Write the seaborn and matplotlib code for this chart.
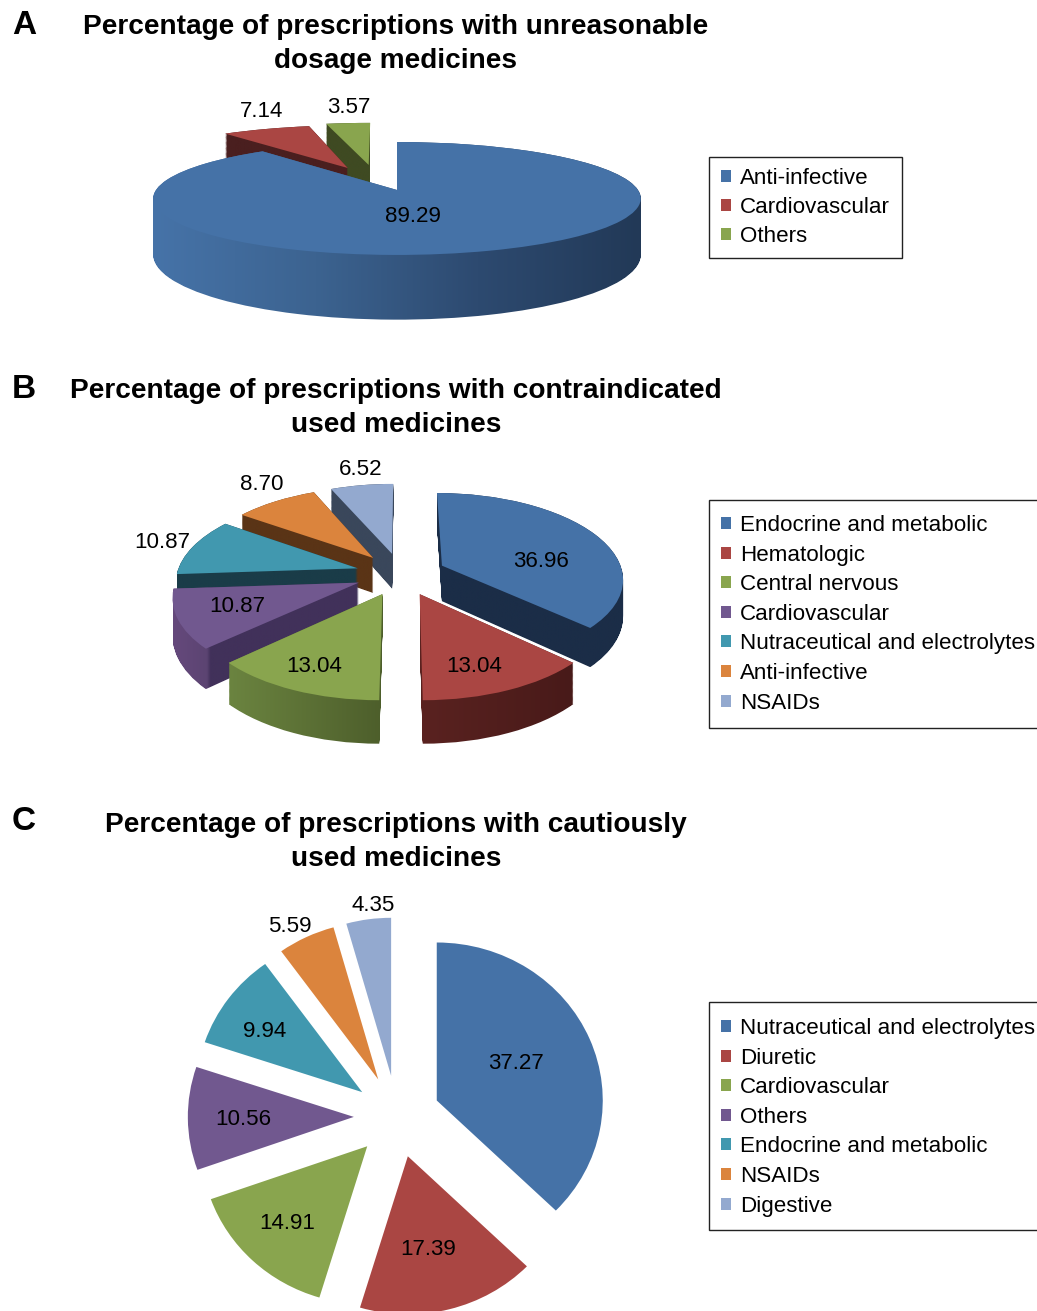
import numpy as np
import matplotlib
matplotlib.use('Agg')
import matplotlib.pyplot as plt
import seaborn as sns
from matplotlib.colors import LinearSegmentedColormap
from matplotlib.patches import Patch, PathPatch, Rectangle
from matplotlib.path import Path

W, H = 1037, 1311

pie_hex = ['#4572A7', '#AA4643', '#89A54E', '#71588F', '#4198AF', '#DB843D', '#93A9CF']

# panel A
a_labels = ['Anti-infective', 'Cardiovascular', 'Others']
a_values = [89.29, 7.14, 3.57]
a_title = ['Percentage of prescriptions with unreasonable', 'dosage medicines']

# panel B
b_labels = ['Endocrine and metabolic', 'Hematologic', 'Central nervous', 'Cardiovascular',
            'Nutraceutical and electrolytes', 'Anti-infective', 'NSAIDs']
b_values = [36.96, 13.04, 13.04, 10.87, 10.87, 8.70, 6.52]
b_title = ['Percentage of prescriptions with contraindicated', 'used medicines']

# panel C
c_labels = ['Nutraceutical and electrolytes', 'Diuretic', 'Cardiovascular', 'Others',
            'Endocrine and metabolic', 'NSAIDs', 'Digestive']
c_values = [37.27, 17.39, 14.91, 10.56, 9.94, 5.59, 4.35]
c_title = ['Percentage of prescriptions with cautiously', 'used medicines']

# where the value labels sit, in pixels
a_label_xy = [(413, 214), (262, 109), (349, 105)]
b_label_xy = [(541, 559), (474, 664), (314, 664), (237, 604), (162, 540), (262, 482), (361, 467)]
c_label_xy = [(516, 1061), (428, 1247), (287, 1221), (243, 1117), (265, 1029), (290, 924), (373, 903)]

# wall shading of the 3D pies, left to right
a_walls = [['#4673A8', '#3C6390', '#2D4A70', '#223957'], ['#4A1F1F', '#4A1F1F'], ['#3F4A22', '#3F4A22']]
b_walls = [['#1B2D47', '#1B2D47'], ['#5A2220', '#481A19'], ['#6B8440', '#4D5E2B'],
           [(0, '#65497C'), (0.18, '#5C4472'), (0.2, '#41315A'), (1, '#41315A')], ['#1A3C48', '#1A3C48'],
           ['#5A3416', '#5A3416'], ['#3A475B', '#3A475B']]

sns.set_theme(style='white')
plt.rcParams['font.family'] = ['Liberation Sans', 'DejaVu Sans']

fig = plt.figure(figsize=(W / 100, H / 100), dpi=100)
ax = fig.add_axes([0, 0, 1, 1])


def pie3d(values, colors, walls, explode, center, a, b, p, depth, order, shift_x=None):
    # take the slices from ax.pie, then tilt them into perspective
    wedges, _ = ax.pie(values, explode=explode, colors=colors, startangle=90, counterclock=False, radius=1)
    for i, w in enumerate(wedges):
        path = w.get_patch_transform().transform_path(w.get_path())
        w.remove()
        v = path.vertices
        s = 1 + p * v[:, 1]
        dx = shift_x[i] if shift_x else 0
        x = center[0] + dx + a * v[:, 0] / s
        y = H - center[1] + b * v[:, 1] / s
        z = order[i]
        if depth > 0:
            layers = [Path(np.column_stack([x, y - depth * f / s]), path.codes) for f in np.linspace(1, 0, int(depth) + 1)]
            side = Path.make_compound_path(*layers)
            ext = side.get_extents()
            cmap = LinearSegmentedColormap.from_list('wall', walls[i])
            im = ax.imshow(np.linspace(0, 1, 256)[None, :], cmap=cmap, aspect='auto', zorder=z + 0.1,
                           extent=(ext.x0, ext.x1, ext.y0, ext.y1))
            im.set_clip_path(PathPatch(side, transform=ax.transData))
        ax.add_patch(PathPatch(Path(np.column_stack([x, y]), path.codes), fc=colors[i], lw=0, zorder=z + 0.2))


def add_texts(title, title_y, letter, letter_y, values, label_xy):
    for line, y in zip(title, title_y):
        ax.text(396, H - y - 2.5, line, ha='center', va='center', fontsize=20.2, fontweight='bold', color='black', zorder=50)
    ax.text(24, H - letter_y - 3, letter, ha='center', va='center', fontsize=24, fontweight='bold', color='black', zorder=50)
    for v, (x, y) in zip(values, label_xy):
        ax.text(x, H - y - 2.5, f'{v:.2f}', ha='center', va='center', fontsize=16.1, color='black', zorder=50)


def add_legend(labels, colors, box, first_row, spacing):
    ax.add_patch(Rectangle((box[0], H - box[1] - box[3]), box[2], box[3], fc='white', ec='#222222', lw=1, zorder=40))
    handles = [Patch(fc=c, lw=0, label=l) for c, l in zip(colors, labels)]
    fig.legend(handles=handles, loc='upper left', bbox_to_anchor=(721 / W, 1 - (first_row - 8) / H), borderaxespad=0,
               fontsize=16.1, frameon=False, handlelength=0.45, handleheight=0.45, handletextpad=0.4,
               labelspacing=spacing, borderpad=0, labelcolor='black')


palette = sns.color_palette(pie_hex)

pie3d(a_values, palette[:3], a_walls, [0, 0.47, 0.49], (397, 190), 241, 55.2, 0.15, 55, [3, 2, 1], [0, -3, -16])
pie3d(b_values, palette, b_walls, [0.25] * 7, (401, 574), 181, 85, 0.14, 36, [1, 6, 5, 4, 3, 2, 1])

# panel C is flat, so plain exploded slices
pie3d(c_values, palette, None, [0.26] * 7, (397, 1116.5), 166, 158, 0, 0, [1] * 7)

add_texts(a_title, [24, 58], 'A', 22, a_values, a_label_xy)
add_texts(b_title, [388, 422], 'B', 386, b_values, b_label_xy)
add_texts(c_title, [822, 856], 'C', 819, c_values, c_label_xy)

add_legend(a_labels, palette[:3], (709, 157, 193, 101), 176, 0.36)
add_legend(b_labels, palette, (709, 500, 340, 228), 523, 0.385)
add_legend(c_labels, palette, (709, 1002, 340, 228), 1026, 0.385)

ax.set_aspect('auto')
ax.set_xlim(0, W)
ax.set_ylim(0, H)
ax.axis('off')

fig.savefig('out.png', dpi=100, facecolor='white')
